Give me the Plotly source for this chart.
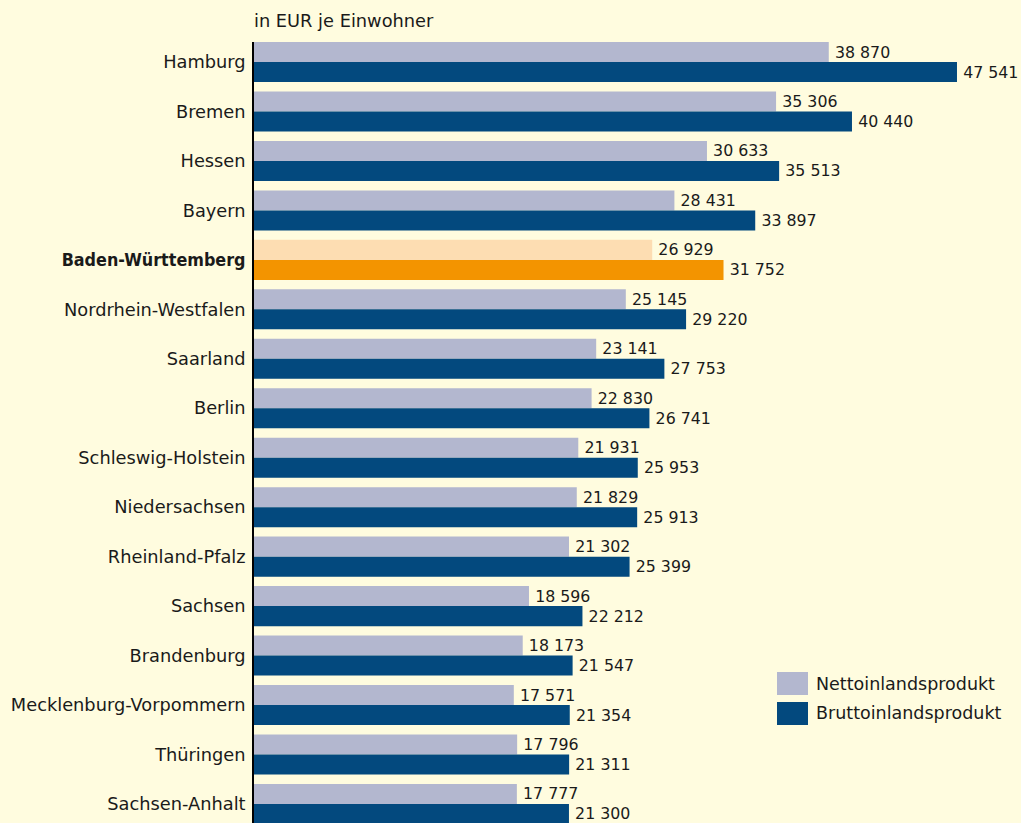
import plotly.graph_objects as go

laender = ["Hamburg", "Bremen", "Hessen", "Bayern", "Baden-Württemberg",
           "Nordrhein-Westfalen", "Saarland", "Berlin", "Schleswig-Holstein",
           "Niedersachsen", "Rheinland-Pfalz", "Sachsen", "Brandenburg",
           "Mecklenburg-Vorpommern", "Thüringen", "Sachsen-Anhalt"]
netto = [38870, 35306, 30633, 28431, 26929, 25145, 23141, 22830, 21931,
         21829, 21302, 18596, 18173, 17571, 17796, 17777]
brutto = [47541, 40440, 35513, 33897, 31752, 29220, 27753, 26741, 25953,
          25913, 25399, 22212, 21547, 21354, 21311, 21300]
highlight = "Baden-Württemberg"

BG = "#FFFCDF"
NETTO_C = "#B3B7CF"
BRUTTO_C = "#03497E"
NETTO_HL = "#FDDDB2"
BRUTTO_HL = "#F39400"
TXT = "#1A1A1A"
FONT = "DejaVu Sans"

netto_colors = [NETTO_HL if l == highlight else NETTO_C for l in laender]
brutto_colors = [BRUTTO_HL if l == highlight else BRUTTO_C for l in laender]

fig = go.Figure()
fig.add_trace(go.Bar(
    y=laender, x=netto, orientation="h", name="Nettoinlandsprodukt",
    marker=dict(color=netto_colors, line=dict(width=0)),
    texttemplate="\u2009%{x:,}", textposition="outside",
    textfont=dict(family=FONT, size=15.8, color=TXT), cliponaxis=False,
    hoverinfo="x+y"))
fig.add_trace(go.Bar(
    y=laender, x=brutto, orientation="h", name="Bruttoinlandsprodukt",
    marker=dict(color=brutto_colors, line=dict(width=0)),
    texttemplate="\u2009%{x:,}", textposition="outside",
    textfont=dict(family=FONT, size=15.8, color=TXT), cliponaxis=False,
    hoverinfo="x+y"))

ticktext = [("<span style=\"font-family:'DejaVu Sans Condensed'\"><b>%s</b></span>" % l)
            if l == highlight else l for l in laender]

W, H = 1021, 823
L, T = 254, 42
pw, ph = W - L, H - T

def px(x):
    return (x - L) / pw

def py(y):
    return (H - y) / ph

shapes = [
    dict(type="rect", xref="paper", yref="paper", x0=px(777), x1=px(808),
         y0=py(695), y1=py(672), fillcolor=NETTO_C, line=dict(width=0)),
    dict(type="rect", xref="paper", yref="paper", x0=px(777), x1=px(808),
         y0=py(725), y1=py(702), fillcolor=BRUTTO_C, line=dict(width=0)),
]
annotations = [
    dict(text="Nettoinlandsprodukt", xref="paper", yref="paper", x=px(814),
         y=py(684), xanchor="left", yanchor="middle", showarrow=False,
         font=dict(family=FONT, size=17.5, color=TXT)),
    dict(text="Bruttoinlandsprodukt", xref="paper", yref="paper", x=px(814),
         y=py(713), xanchor="left", yanchor="middle", showarrow=False,
         font=dict(family=FONT, size=17.5, color=TXT)),
    dict(text="in EUR je Einwohner", xref="paper", yref="paper", x=px(252),
         y=py(20), xanchor="left", yanchor="middle", showarrow=False,
         font=dict(family=FONT, size=17.8, color=TXT)),
]

fig.update_layout(
    width=W, height=H,
    margin=dict(l=L, r=0, t=T, b=0, pad=0),
    paper_bgcolor=BG, plot_bgcolor=BG,
    barmode="group", bargap=0.19, bargroupgap=0,
    showlegend=False,
    separators=", ",
    font=dict(family=FONT, size=17, color=TXT),
    shapes=shapes, annotations=annotations,
    xaxis=dict(range=[0, 51870], showgrid=False, zeroline=False,
               showticklabels=False, showline=False, fixedrange=True),
    yaxis=dict(type="category", categoryorder="array", categoryarray=laender,
               range=[15.385, -0.405], showgrid=False, zeroline=False,
               showline=True, linecolor="#000000", linewidth=1.7,
               tickmode="array", tickvals=laender, ticktext=ticktext,
               ticks="", ticklabelstandoff=3,
               tickfont=dict(family=FONT, size=17.8, color=TXT),
               fixedrange=True),
)

fig.write_html("out.html",
               config={"displayModeBar": False},
               post_script="document.body.style.margin='0';"
                           "document.body.style.padding='0';"
                           "document.body.style.overflow='hidden';")
